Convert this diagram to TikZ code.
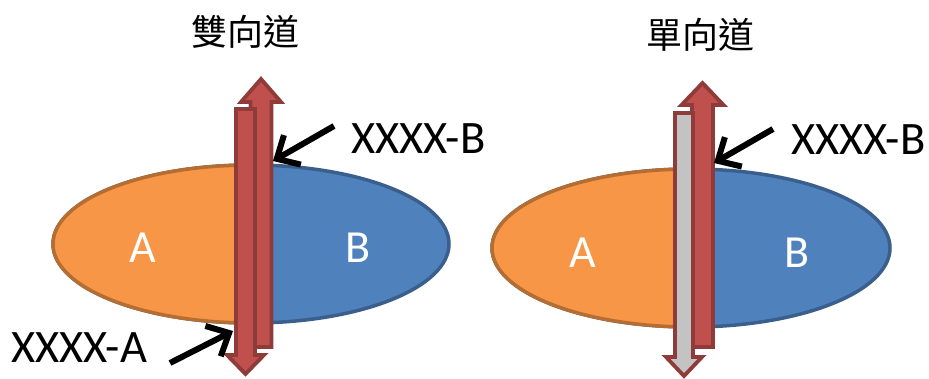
\documentclass[tikz,border=0pt]{standalone}
\usepackage{fontspec}
\setmainfont{Carlito}
\newfontfamily\cjk{Noto Sans CJK TC}
\usetikzlibrary{arrows.meta}
\definecolor{redfill}{HTML}{C0504D}
\definecolor{redline}{HTML}{8E3B39}
\definecolor{orfill}{HTML}{F79646}
\definecolor{orline}{HTML}{B66D31}
\definecolor{blfill}{HTML}{4F81BD}
\definecolor{blline}{HTML}{3A5F8C}
\definecolor{grfill}{HTML}{C3C3C3}
\tikzset{
  redarrow/.style={fill=redfill, draw=redline, line width=3.8pt, line join=miter},
  grayarrow/.style={fill=grfill, draw=redline, line width=3.8pt, line join=miter},
  orangepart/.style={fill=orfill, draw=orline, line width=3.5pt},
  bluepart/.style={fill=blfill, draw=blline, line width=3.5pt},
  title/.style={font=\cjk\fontsize{36}{36}\selectfont, inner sep=0pt},
  lab/.style={font=\fontsize{46.5}{46.5}\selectfont, inner sep=0pt, anchor=west},
  reg/.style={font=\fontsize{46}{46}\selectfont, text=white, inner sep=0pt},
  pointer/.style={line width=6pt, -{Straight Barb[length=18pt,width=34pt]}}
}
% up arrow: cx, shaft half width, head half width, tip y, head base y, bottom y
\newcommand\myuparrow[7]{\draw[#1] ({#2-#3},#7) -- ({#2-#3},#6) -- ({#2-#4},#6) -- (#2,#5) -- ({#2+#4},#6) -- ({#2+#3},#6) -- ({#2+#3},#7) -- cycle;}
\begin{document}
\begin{tikzpicture}[x=1pt,y=-1pt]
\useasboundingbox (0,0) rectangle (929,378);
% ---------- left diagram ----------
\draw[bluepart] (251,244) ellipse [x radius=198pt, y radius=79pt];
\begin{scope}
  \clip (0,0) rectangle (251,378);
  \draw[orangepart] (251,244) ellipse [x radius=198pt, y radius=79pt];
\end{scope}
\myuparrow{redarrow}{261}{10.5}{20}{79}{102}{347}
\myuparrow{redarrow}{245.5}{9.5}{18.5}{374}{355}{109}
\node[reg] (la) at (143,248) {A};
\node[reg] (lb) at (358,248) {B};
\node[title] (t1) at (245,32) {雙向道};
\node[lab] (lxb) at (351,139) {XXXX-B};
\node[lab] (lxa) at (11,348) {XXXX-A};
\coordinate (lbs) at (334,126);
\coordinate (lbt) at (273,161);
\coordinate (las) at (170,363);
\coordinate (lat) at (233,331);
\draw[pointer] (lbs) -- (lbt);
\draw[pointer] (las) -- (lat);
% ---------- right diagram ----------
\draw[bluepart] (691,248) ellipse [x radius=199pt, y radius=79pt];
\begin{scope}
  \clip (0,0) rectangle (691,378);
  \draw[orangepart] (691,248) ellipse [x radius=199pt, y radius=79pt];
\end{scope}
\myuparrow{redarrow}{702.5}{10.5}{21}{83}{105}{347}
\myuparrow{grayarrow}{684}{9}{18}{376}{357}{113}
\node[reg] (ra) at (583,253) {A};
\node[reg] (rb) at (797,253) {B};
\node[title] (t2) at (700,35) {單向道};
\node[lab] (rxb) at (791,140) {XXXX-B};
\coordinate (rbs) at (773,129);
\coordinate (rbt) at (714,163);
\draw[pointer] (rbs) -- (rbt);
\end{tikzpicture}
\end{document}
